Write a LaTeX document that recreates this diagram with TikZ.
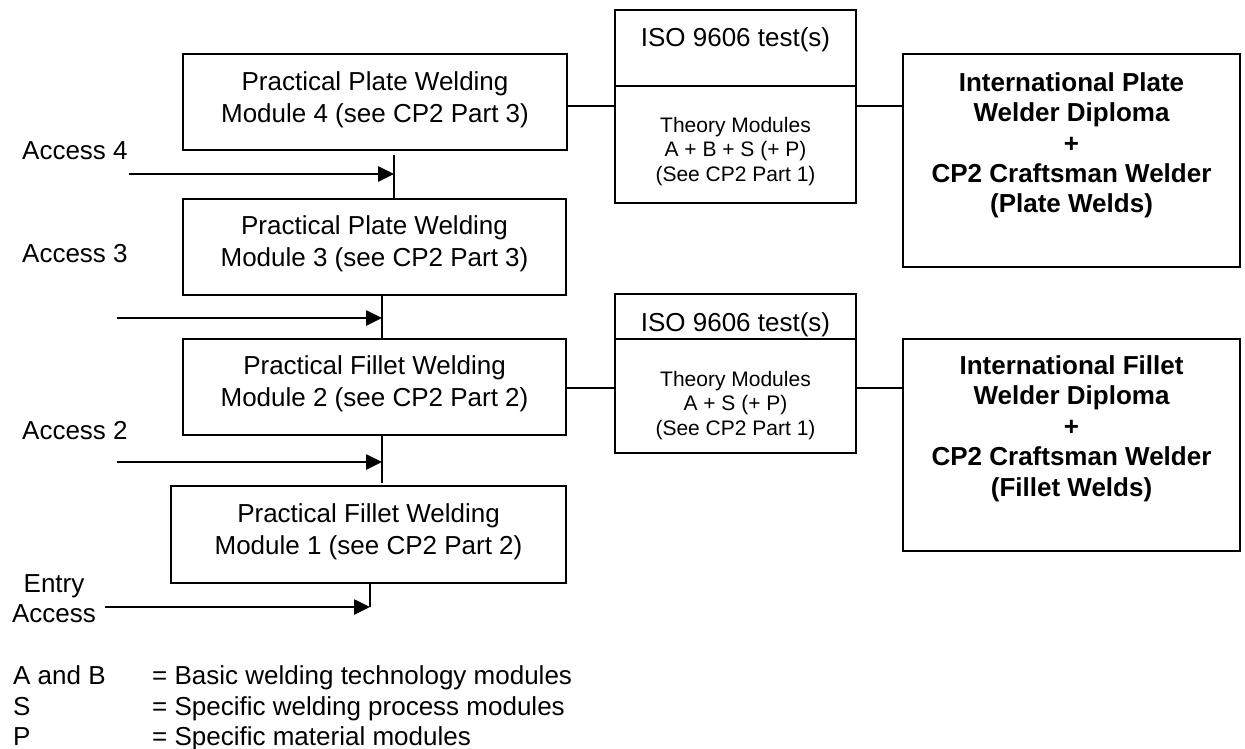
\documentclass[tikz,border=0pt]{standalone}
\usepackage{fontspec}
\setmainfont{Liberation Sans}
\usetikzlibrary{arrows.meta}
\begin{document}
\begin{tikzpicture}[x=1pt,y=-1pt,
  box/.style={draw, line width=2pt, inner sep=0pt},
  txt/.style={align=center, inner sep=0pt, font=\fontsize{26}{32}\selectfont},
  theory/.style={align=center, inner sep=0pt, font=\fontsize{21}{24.4}\selectfont},
  dipl/.style={align=center, inner sep=0pt, font=\fontsize{26}{30.4}\selectfont\bfseries},
  lbl/.style={inner sep=0pt, anchor=base west, font=\fontsize{26}{30}\selectfont},
  conn/.style={line width=1.7pt},
  arr/.style={line width=2.6pt, -{Triangle[length=16pt,width=15pt]}}
]
\useasboundingbox (0,0) rectangle (1245,749);

% practical module boxes
\node[box, minimum width=384pt, minimum height=96pt] (m4) at (375,102) {};
\node[txt] (m4t) at (375,99.8) {Practical Plate Welding\\Module 4 (see CP2 Part 3)};
\node[box, minimum width=383pt, minimum height=96pt] (m3) at (374.5,247) {};
\node[txt] (m3t) at (374.5,243.3) {Practical Plate Welding\\Module 3 (see CP2 Part 3)};
\node[box, minimum width=383pt, minimum height=96pt] (m2) at (374.5,387) {};
\node[txt] (m2t) at (374.5,383.8) {Practical Fillet Welding\\Module 2 (see CP2 Part 2)};
\node[box, minimum width=395pt, minimum height=97pt] (m1) at (368.5,534.5) {};
\node[txt] (m1t) at (368.5,531.3) {Practical Fillet Welding\\Module 1 (see CP2 Part 2)};

% ISO / theory boxes
\node[box, minimum width=241pt, minimum height=76pt] (iso1t) at (735.5,48) {};
\node[txt] (iso1tt) at (735.5,40.1) {ISO 9606 test(s)};
\node[box, minimum width=241pt, minimum height=117pt] (iso1b) at (735.5,144.5) {};
\node[theory] (iso1bt) at (735.5,151.5) {Theory Modules\\A + B + S (+ P)\\(See CP2 Part 1)};

\node[box, minimum width=241pt, minimum height=45pt] (iso2t) at (735.5,316.5) {};
\node[txt] (iso2tt) at (735.5,324.3) {ISO 9606 test(s)};
\node[box, minimum width=241pt, minimum height=114pt] (iso2b) at (735.5,396) {};
\node[theory] (iso2bt) at (735.5,405.2) {Theory Modules\\A + S (+ P)\\(See CP2 Part 1)};

% diploma boxes
\node[box, minimum width=337pt, minimum height=213pt] (d1) at (1071.5,160.5) {};
\node[dipl] (d1t) at (1071.5,145.3) {International Plate\\Welder Diploma\\+\\CP2 Craftsman Welder\\(Plate Welds)};
\node[box, minimum width=337pt, minimum height=212pt] (d2) at (1071.5,445) {};
\node[dipl] (d2t) at (1071.5,428.6) {International Fillet\\Welder Diploma\\+\\CP2 Craftsman Welder\\(Fillet Welds)};

% horizontal connectors
\coordinate (c1) at (0,106);
\draw[conn] (m4.east |- c1) -- (iso1b.west |- c1);
\draw[conn] (iso1b.east |- c1) -- (d1.west |- c1);
\coordinate (c2) at (0,388);
\draw[conn] (m2.east |- c2) -- (iso2b.west |- c2);
\draw[conn] (iso2b.east |- c2) -- (d2.west |- c2);

% vertical connectors
\coordinate (v4) at (394,155);
\draw[conn] (v4) -- (v4 |- m3.north);
\coordinate (v3) at (382,318);
\draw[conn] (v3 |- m3.south) -- (v3 |- m2.north);
\coordinate (v2) at (382,483);
\draw[conn] (v2 |- m2.south) -- (v2);
\coordinate (v1) at (370,607);
\draw[conn] (v1 |- m1.south) -- (v1);

% access arrows
\coordinate (a4) at (129,174);
\draw[arr] (a4) -- (a4 -| v4);
\coordinate (a3) at (117,318);
\draw[arr] (a3) -- (v3);
\coordinate (a2) at (117,462);
\draw[arr] (a2) -- (a2 -| v2);
\coordinate (a1) at (105,607);
\draw[arr] (a1) -- (v1);

% access labels
\node[lbl] (l4) at (22,160) {Access 4};
\node[lbl] (l3) at (22,262) {Access 3};
\node[lbl] (l2) at (22,439) {Access 2};
\node[align=center, inner sep=0pt, font=\fontsize{26}{29.7}\selectfont] (l1) at (54,598.5) {Entry\\Access};

% legend
\node[lbl] (k1) at (13,684) {A and B};
\node[lbl] (k2) at (13,715) {S};
\node[lbl] (k3) at (13,745) {P};
\node[lbl] (e1) at (152,684) {= Basic welding technology modules};
\node[lbl] (e2) at (152,715) {= Specific welding process modules};
\node[lbl] (e3) at (152,745) {= Specific material modules};
\end{tikzpicture}
\end{document}
